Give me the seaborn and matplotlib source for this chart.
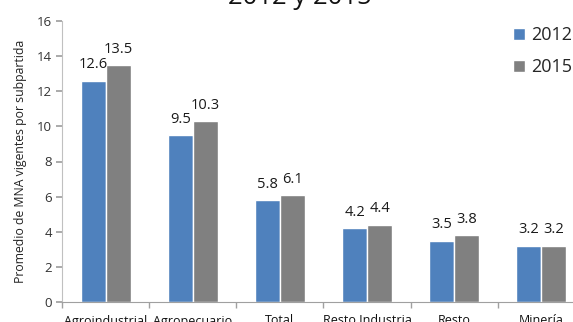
import matplotlib
matplotlib.use("Agg")
import matplotlib.pyplot as plt
import seaborn as sns
import pandas as pd
import numpy as np

categories = ["Agroindustrial", "Agropecuario", "Total", "Resto Industria", "Resto", "Minería"]
years = ["2012", "2015"]
values_2012 = [12.6, 9.5, 5.8, 4.2, 3.5, 3.2]
values_2015 = [13.5, 10.3, 6.1, 4.4, 3.8, 3.2]
yticks = [0, 2, 4, 6, 8, 10, 12, 14, 16]
title = "2012 y 2015"
ylabel = "Promedio de MNA vigentes por subpartida"

df = pd.DataFrame({
    "Categoría": categories * 2,
    "Año": [years[0]] * len(categories) + [years[1]] * len(categories),
    "Valor": values_2012 + values_2015,
})

sns.set_theme(style="white")
plt.rcParams['font.family'] = ['Open Sans', 'DejaVu Sans']

fig = plt.figure(figsize=(5.73, 3.22), dpi=100)
# the plot area runs past the right edge of the picture, as in the reference
ax = fig.add_axes([62/573, 1 - 302/322, (585 - 62)/573, (302 - 21)/322])

palette = {"2012": "#4F81BD", "2015": "#808080"}
sns.barplot(data=df, x="Categoría", y="Valor", hue="Año", palette=palette,
            width=0.575, saturation=1, ax=ax, order=categories, hue_order=years)

for cont in ax.containers:
    ax.bar_label(cont, fmt="%.1f", padding=6, fontsize=10.5, color="#1a1a1a")

ax.set_ylim(0, 16)
ax.set_yticks(yticks)
ax.set_xlim(-0.5, len(categories) - 0.5)
ax.set_xlabel("")
ax.set_ylabel(ylabel, fontsize=8.8, color="#222222", labelpad=7)
ax.tick_params(axis="y", labelsize=9.5, colors="#333333", length=4, left=True, color="#a0a0a0", pad=3)
ax.tick_params(axis="x", labelsize=9, colors="#111111", length=0, pad=9)
ax.set_xticks(np.arange(-0.5, len(categories)), minor=True)
ax.tick_params(axis="x", which="minor", bottom=True, length=4, color="#a0a0a0")

for s in ["top", "right"]:
    ax.spines[s].set_visible(False)
ax.spines["left"].set_color("#c0c0c0")
ax.spines["bottom"].set_color("#a0a0a0")
ax.spines["left"].set_linewidth(0.8)
ax.spines["bottom"].set_linewidth(0.8)

leg = ax.legend(loc="upper left", bbox_to_anchor=(513/573, 1 - 26/322),
                bbox_transform=fig.transFigure, frameon=False, fontsize=13,
                handlelength=0.65, handleheight=0.65, handletextpad=0.35,
                labelspacing=0.8, borderaxespad=0, borderpad=0)

fig.text(300/573, 1 - 4/322, title, ha="center", va="baseline", fontsize=18.5, color="#111111")

fig.savefig("out.png", dpi=100)
